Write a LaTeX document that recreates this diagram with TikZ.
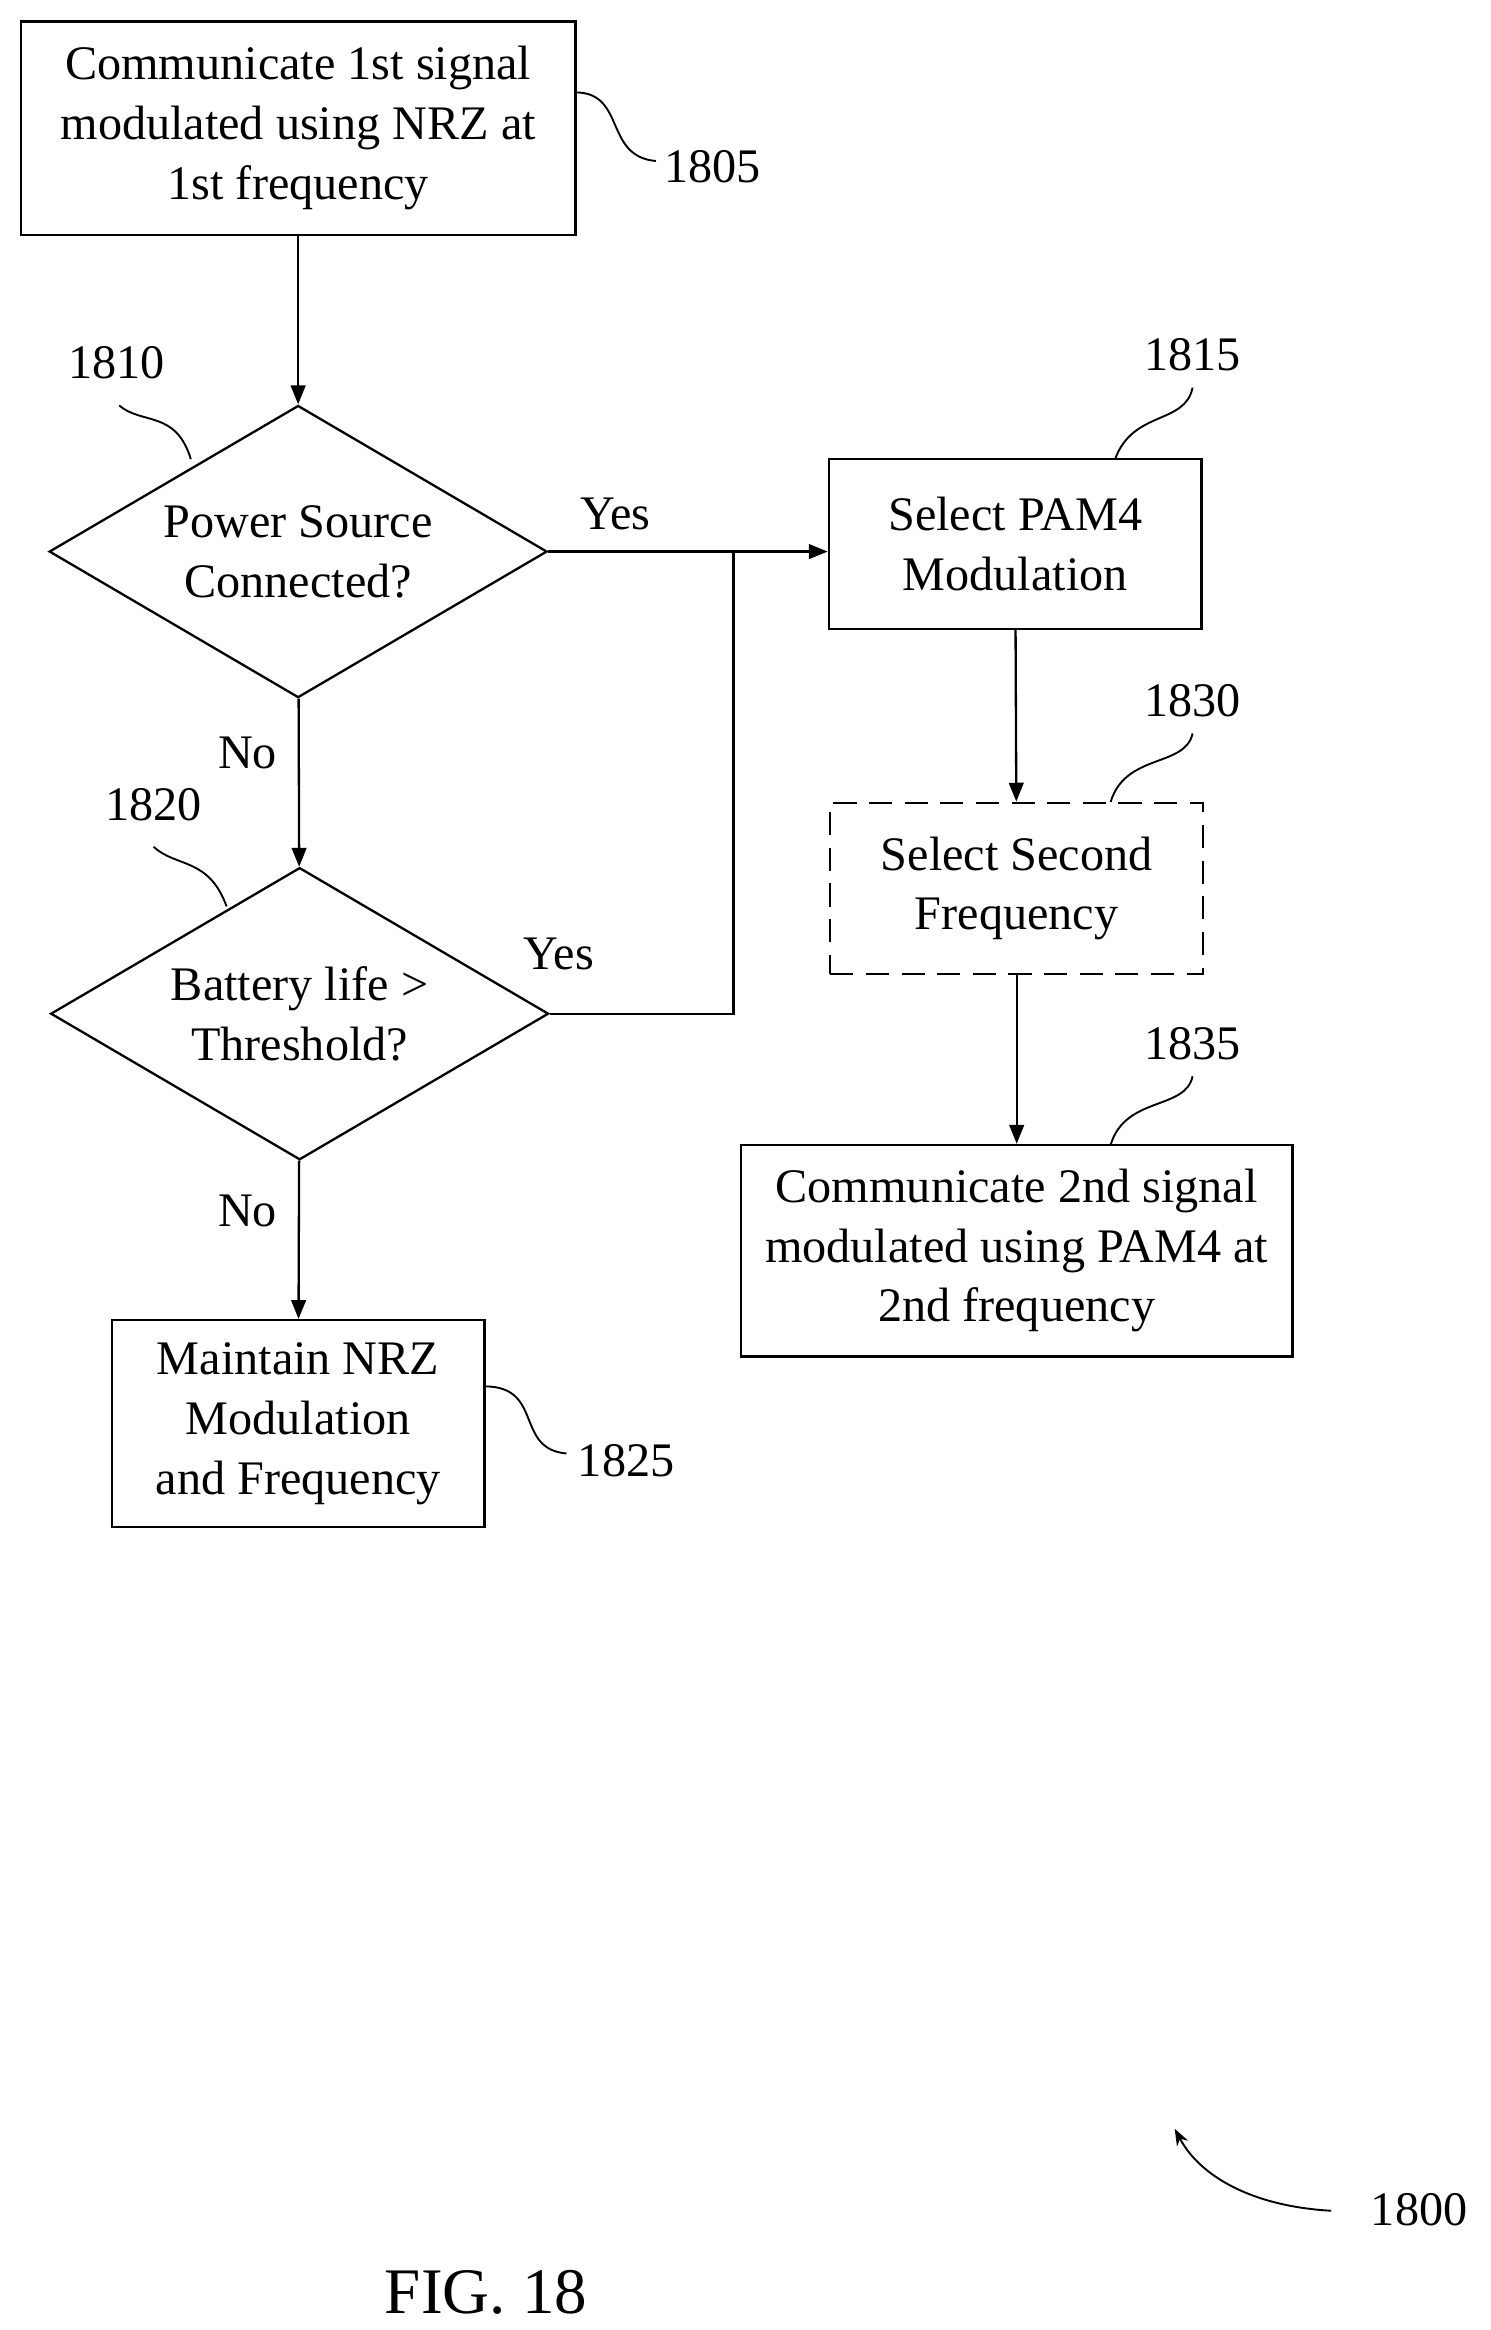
\documentclass[tikz,border=0pt]{standalone}
\usepackage{fontspec}
\setmainfont{Liberation Serif}
\usetikzlibrary{shapes.geometric,arrows.meta}
\begin{document}
\begin{tikzpicture}[x=0.05cm,y=-0.05cm,
  every node/.style={font=\fontsize{46}{57}\selectfont},
  box/.style={draw,line width=2.2pt,align=center,inner sep=0pt},
  dia/.style={draw,line width=2.2pt,diamond,align=center,inner sep=0pt,minimum width=334*0.05cm,minimum height=196*0.05cm,aspect=1.7},
  arr/.style={line width=2.2pt,-{Triangle[length=18pt,width=14pt]}},
  ln/.style={line width=2.2pt},
  lead/.style={line width=1.8pt},
  lbl/.style={inner sep=0pt}]
\useasboundingbox (0,0) rectangle (1000,1563);
\node[box,minimum width=372*0.05cm,minimum height=143*0.05cm] (b1) at (200,86) {Communicate 1st signal\\modulated using NRZ at\\1st frequency};
\node[dia] (d1) at (200,370) {Power Source\\Connected?};
\node[dia] (d2) at (201,680) {Battery life >\\Threshold?};
\node[box,minimum width=250*0.05cm,minimum height=139*0.05cm] (b4) at (200,955) {Maintain NRZ\\Modulation\\and Frequency};
\node[box,minimum width=250*0.05cm,minimum height=114*0.05cm] (b2) at (681,365) {Select PAM4\\Modulation};
\node[box,dashed,dash pattern=on 22pt off 12pt,minimum width=250*0.05cm,minimum height=115*0.05cm] (b3) at (682,596) {Select Second\\Frequency};
\node[box,minimum width=370*0.05cm,minimum height=142*0.05cm] (b5) at (682,839) {Communicate 2nd signal\\modulated using PAM4 at\\2nd frequency};
\coordinate (j) at (492,370);
\draw[arr] (b1) -- (d1);
\draw[arr] (d1.east) -- (b2.west |- d1.east);
\draw[ln] (d2.east) -| (j);
\draw[arr] (d1) -- (d2);
\draw[arr] (d2) -- (b4);
\draw[arr] (b2) -- (b3);
\draw[arr] (b3) -- (b5);
\node[lbl] (y1) at (413,345) {Yes};
\node[lbl] (y2) at (375,640) {Yes};
\node[lbl] (n1) at (166,505) {No};
\node[lbl] (n2) at (166,812) {No};
\node[lbl] (l1805) at (478,112) {1805};
\node[lbl] (l1810) at (78,243) {1810};
\node[lbl] (l1815) at (800,238) {1815};
\node[lbl] (l1830) at (800,470) {1830};
\node[lbl] (l1835) at (800,700) {1835};
\node[lbl] (l1820) at (103,540) {1820};
\node[lbl] (l1825) at (420,980) {1825};
\node[lbl] (l1800) at (952,1482) {1800};
\node[lbl,font=\fontsize{62}{70}\selectfont] (fig) at (326,1538) {FIG. 18};
\draw[lead] (386,62) .. controls (420,62) and (405,105) .. (440,108);
\draw[lead] (128,308) .. controls (118,275) and (95,285) .. (80,272);
\draw[lead] (748,308) .. controls (760,275) and (795,285) .. (800,260);
\draw[lead] (745,538) .. controls (755,505) and (795,515) .. (800,492);
\draw[lead] (745,768) .. controls (755,735) and (795,745) .. (800,722);
\draw[lead] (152,608) .. controls (140,575) and (118,582) .. (103,568);
\draw[lead] (325,930) .. controls (365,930) and (345,972) .. (380,975);
\draw[lead,-{Stealth[length=16pt,width=12pt]}] (893,1483) .. controls (840,1480) and (805,1460) .. (788,1428);
\end{tikzpicture}
\end{document}
